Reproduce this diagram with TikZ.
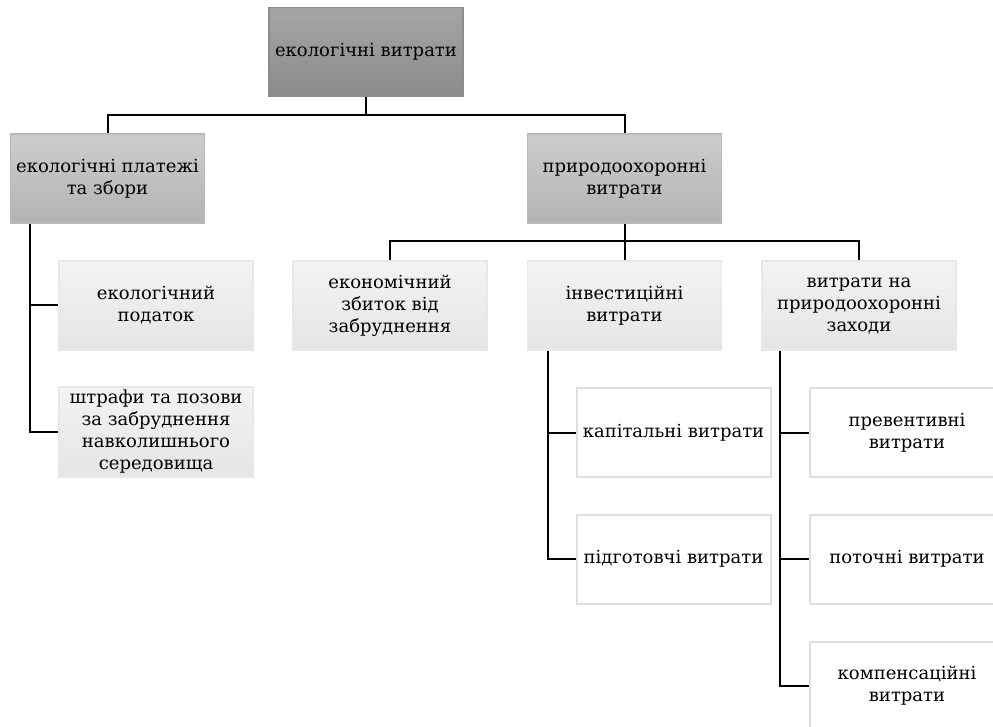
\documentclass[tikz,border=0pt]{standalone}
\usepackage{fontspec}
\setmainfont{DejaVu Serif}
\usepackage{xcolor}

\definecolor{darkgr}{HTML}{A5A5A5}
\definecolor{darkgrb}{HTML}{8B8B8B}
\definecolor{midgr}{HTML}{CDCDCD}
\definecolor{midgrb}{HTML}{B3B3B3}
\definecolor{lightgr}{HTML}{F3F3F3}
\definecolor{lightgrb}{HTML}{E5E5E5}

\begin{document}
\begin{tikzpicture}
  [x=1pt,y=-1pt,line width=2pt,
   every node/.style={rectangle,minimum width=194pt,minimum height=89pt,
     align=center,font=\fontsize{18}{22}\selectfont,line width=1.2pt},
   lvlzero/.style={draw=gray!90,top color=darkgr,bottom color=darkgrb},
   lvlone/.style={draw=gray!55,top color=midgr,bottom color=midgrb},
   lvltwo/.style={draw=gray!18,top color=lightgr,bottom color=lightgrb},
   lvlthree/.style={draw=gray!25,fill=white,line width=2pt}]
  \useasboundingbox (0,0) rectangle (993,727);

  \node[lvlzero] (costs) at (366,52) {екологічні витрати};
  \node[lvlone] (pay) at (107.5,178.5) {екологічні платежі\\та збори};
  \node[lvlone] (prot) at (624.5,178.5) {природоохоронні\\витрати};

  \node[lvltwo] (tax) at (156,305.5) {екологічний\\податок};
  \node[lvltwo] (fines) at (156,432) {штрафи та позови\\за забруднення\\навколишнього\\середовища};
  \node[lvltwo] (damage) at (390,305.5) {економічний\\збиток від\\забруднення};
  \node[lvltwo] (invest) at (624.5,305.5) {інвестиційні\\витрати};
  \node[lvltwo] (measures) at (859,305.5) {витрати на\\природоохоронні\\заходи};

  \node[lvlthree] (capital) at (673.5,432.5) {капітальні витрати};
  \node[lvlthree] (prep) at (673.5,559) {підготовчі витрати};
  \node[lvlthree] (prevent) at (907,432.5) {превентивні\\витрати};
  \node[lvlthree] (current) at (907,559) {поточні витрати};
  \node[lvlthree] (compens) at (907,686) {компенсаційні\\витрати};

  \foreach \to in {pay,prot}
    \draw (costs.south) -- ++(0,18) -| (\to.north);
  \foreach \to in {damage,invest,measures}
    \draw (prot.south) -- ++(0,17) -| (\to.north);

  \foreach \to in {tax,fines}
    \draw ([xshift=20pt]pay.south west) |- (\to.west);
  \foreach \to in {capital,prep}
    \draw ([xshift=21pt]invest.south west) |- (\to.west);
  \foreach \to in {prevent,current,compens}
    \draw ([xshift=19pt]measures.south west) |- (\to.west);

\end{tikzpicture}
\end{document}
